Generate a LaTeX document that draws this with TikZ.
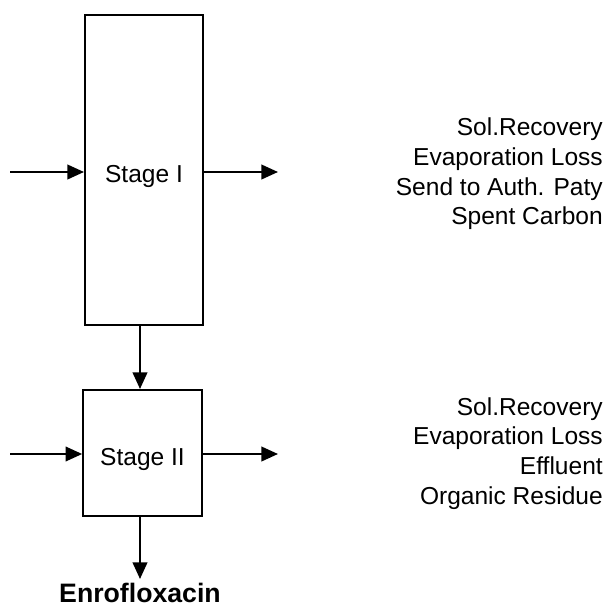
\documentclass[tikz,border=0pt]{standalone}
\usepackage{fontspec}
\setmainfont{Liberation Sans}
\usetikzlibrary{arrows.meta}
\begin{document}
\begin{tikzpicture}[x=0.75pt,y=-0.75pt,
  stagebox/.style={draw,line width=1.5pt,inner sep=0pt,text height=18pt,text depth=0pt,font=\fontsize{18.4}{22}\selectfont},
  arr/.style={line width=1.5pt,-{Triangle[length=12.5pt,width=11pt]}},
  outtext/.style={align=right,inner sep=0pt,anchor=east,font=\fontsize{18.4}{22.3}\selectfont},
  prodtext/.style={inner sep=0pt,anchor=base,font=\fontsize{20}{24}\selectfont\bfseries}]
\useasboundingbox (0,0) rectangle (608,607);
\node[stagebox,minimum width=88.5pt,minimum height=233pt] (s1) at (144,170) {Stage I};
\node[stagebox,minimum width=89pt,minimum height=94.5pt] (s2) at (142.5,453) {Stage II};
\coordinate (in1) at (10,172);
\coordinate (out1) at (278,172);
\coordinate (in2) at (10,454);
\coordinate (out2) at (278,454);
\coordinate (vx) at (140,0);
\coordinate (pend) at (140,579);
\node[prodtext] (prod) at (140,602) {Enrofloxacin};
\node[outtext] (t1) at (603,174) {Sol.Recovery\\Evaporation Loss\\Send to Auth. Paty\\Spent Carbon};
\node[outtext] (t2) at (603,453.5) {Sol.Recovery\\Evaporation Loss\\Effluent\\Organic Residue};
\draw[arr] (in1) -- (in1 -| s1.west);
\draw[arr] (out1 -| s1.east) -- (out1);
\draw[arr] (in2) -- (in2 -| s2.west);
\draw[arr] (out2 -| s2.east) -- (out2);
\draw[arr] (s1.south -| vx) -- (s2.north -| vx);
\draw[arr] (s2.south -| vx) -- (pend);
\end{tikzpicture}
\end{document}
